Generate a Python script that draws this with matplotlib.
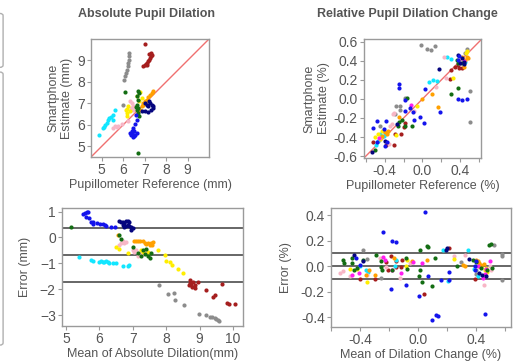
import numpy as np
import matplotlib
matplotlib.use('Agg')
import matplotlib.pyplot as plt
from matplotlib.patches import FancyBboxPatch

plt.rcParams['font.family'] = ['Liberation Sans', 'DejaVu Sans']

# ---- data: (reference, estimate) pairs, absolute dilation (mm) ----
tl_gray = [(6.05,8.11),(6.08,8.26),(6.13,8.42),(6.16,8.57),(6.21,8.73),(6.24,8.88),(6.27,9.04),(6.29,9.19),(6.29,9.35),(6.01,6.94)]
tl_brown = [(7.02,9.77),(6.94,8.73),(7.02,8.77),(7.09,8.80),(7.12,8.88),(7.17,8.96),(7.22,9.04),(7.25,9.11),(7.28,9.19),(7.31,9.35),(7.22,9.32),(7.06,8.84),(7.33,9.27)]
tl_cyan = [(4.89,5.54),(5.04,5.85),(5.11,5.88),(5.15,5.98),(5.23,6.09),(5.31,6.24),(5.42,6.35),(5.51,6.44),(5.62,6.71),(5.54,6.24),(5.35,6.30)]
tl_pink = [(6.32,7.10),(6.39,7.02),(6.44,6.86),(6.47,6.71),(6.35,6.79),(5.77,5.93),(5.70,5.89),(5.54,5.85),(5.93,6.04),(6.24,6.16),(5.62,5.95)]
tl_yellow = [(6.13,6.71),(6.19,6.55),(6.16,6.40),(6.24,6.86),(6.32,6.63),(6.63,7.33),(6.78,7.53),(6.86,7.25),(6.75,7.10),(6.20,6.75)]
tl_orange = [(6.78,6.71),(6.86,6.86),(6.94,7.02),(7.02,7.10),(7.09,7.17),(7.17,7.28),(7.25,7.38),(7.33,7.48),(7.37,7.56),(7.12,7.10),(6.94,6.94)]
tl_green = [(6.08,7.52),(6.67,7.56),(6.74,7.48),(6.66,7.33),(6.70,7.17),(6.64,6.94),(6.70,6.79),(6.63,6.71),(6.67,6.55),(6.74,6.40),(6.70,4.69),(6.60,6.85)]
tl_navy = [(7.02,7.02),(7.09,6.94),(7.17,6.86),(7.25,7.02),(7.33,6.94),(7.37,6.79),(7.28,6.71),(7.17,6.60),(7.02,6.63),(6.86,6.63),(7.40,6.86),(7.20,7.10)]
tl_blue = [(6.63,6.24),(6.55,6.04),(6.47,5.85),(6.39,5.70),(6.47,5.54),(6.35,5.51),(6.44,5.42),(6.55,5.54),(6.63,5.62),(6.52,5.70),(6.32,5.62),(6.61,6.48),(6.40,5.60),(6.50,5.48)]

# ---- relative dilation change (reference, estimate) ----
tr_gray = [(-0.02,0.57),(0.046,0.525),(0.09,0.51),(0.13,0.56),(0.47,0.52),(0.50,0.08),(0.50,-0.24),(-0.28,-0.07),(-0.24,-0.07),(-0.24,-0.12),(-0.29,-0.16),(-0.18,0.01),(-0.45,-0.28),(0.45,0.48)]
tr_brown = [(0.30,0.30),(0.29,0.21),(0.34,0.34),(0.39,0.32),(0.42,0.33),(0.375,0.36),(-0.20,-0.29),(-0.23,-0.37),(-0.29,-0.37),(-0.30,-0.48),(-0.385,-0.48),(-0.52,-0.45),(-0.18,-0.25)]
tr_cyan = [(0.26,0.44),(0.30,0.42),(0.11,0.195),(0.07,0.18),(0.15,0.19),(-0.40,-0.355),(-0.41,-0.39),(-0.47,-0.44),(-0.45,-0.37),(-0.49,-0.48),(0.45,0.39)]
tr_pink = [(0.14,0.13),(-0.34,-0.28),(-0.32,-0.26),(-0.31,-0.16),(-0.30,-0.15),(-0.35,-0.47),(0.23,0.44),(0.39,0.38),(-0.095,-0.13),(0.25,0.22)]
tr_yellow = [(-0.475,-0.37),(-0.50,-0.40),(-0.45,-0.42),(-0.28,-0.38),(-0.06,-0.07),(0.32,0.22),(0.46,0.48),(0.47,0.50),(-0.43,-0.34)]
tr_orange = [(-0.38,-0.37),(-0.40,-0.35),(-0.43,-0.39),(-0.37,-0.34),(-0.01,0.0),(0.10,0.055),(0.16,-0.08),(0.47,0.445),(0.45,0.41),(0.48,0.43),(0.445,0.34),(-0.25,-0.19),(0.42,0.445)]
tr_magenta = [(-0.46,-0.41),(0.44,0.40),(-0.12,-0.06)]
tr_green = [(-0.16,0.01),(-0.11,-0.28),(-0.18,-0.285),(-0.22,-0.22),(-0.255,-0.285),(0.38,0.115),(0.30,0.05),(-0.50,-0.535),(0.38,0.38),(0.42,0.375),(0.365,0.41),(-0.25,-0.245)]
tr_navy = [(0.375,0.46),(0.42,0.43),(0.40,0.38),(0.44,0.39),(0.17,0.31),(-0.27,-0.26),(-0.40,-0.44),(-0.53,-0.56),(0.435,0.37)]
tr_blue = [(-0.25,0.16),(-0.25,0.11),(-0.19,-0.01),(-0.13,-0.09),(-0.10,-0.14),(-0.025,-0.19),(0.02,-0.25),(0.03,0.10),(0.19,-0.14),(0.38,0.0),(0.42,-0.01),(0.47,0.0),(-0.52,-0.31),(-0.48,-0.23),(-0.39,-0.23),(-0.41,-0.32),(-0.48,-0.45),(-0.38,-0.45),(-0.40,-0.49),(-0.19,-0.13),(-0.085,-0.22),(0.39,0.45),(0.375,0.41)]

# ---- Bland-Altman absolute (mean, error) ----
bl_gray = [(7.78,-1.84),(8.05,-2.20),(8.22,-2.15),(8.25,-2.40),(8.52,-2.60),(8.98,-2.96),(9.20,-2.99),(9.30,-3.06),(9.38,-3.07),(9.45,-3.12),(9.50,-3.16),(9.55,-3.20),(9.58,-3.24)]
bl_brown = [(8.70,-1.74),(8.75,-1.82),(8.80,-1.72),(8.68,-1.85),(8.78,-1.91),(8.85,-1.97),(8.72,-1.64),(8.95,-1.72),(9.20,-2.03),(9.40,-2.29),(9.45,-2.23),(9.68,-1.80),(9.82,-2.54),(9.88,-2.58),(10.05,-2.58),(8.85,-1.82)]
bl_cyan = [(5.40,-0.77),(5.75,-0.88),(5.80,-0.90),(6.00,-0.95),(6.05,-0.92),(6.10,-0.95),(6.15,-0.93),(6.20,-0.92),(6.25,-0.95),(6.30,-0.98),(6.40,-1.00),(6.50,-0.97),(6.70,-1.10),(6.85,-1.10),(6.90,-1.08)]
bl_pink = [(6.65,-0.20),(6.70,-0.15),(6.75,-0.20),(6.80,-0.18),(7.00,-0.50),(7.05,-0.55),(7.10,-0.50),(7.15,-0.70),(7.20,-0.60),(7.30,-0.65),(7.35,-0.55),(6.60,-0.30)]
bl_yellow = [(6.50,-0.35),(6.60,-0.45),(6.85,-0.60),(7.25,-0.50),(7.30,-0.55),(7.45,-0.55),(7.76,-0.48),(7.96,-0.67),(7.98,-0.90),(8.12,-0.95),(8.18,-1.05),(8.35,-1.20),(8.50,-1.39)]
bl_orange = [(6.55,0.08),(7.05,-0.12),(7.10,-0.15),(7.15,-0.13),(7.20,-0.15),(7.30,-0.13),(7.35,-0.20),(7.40,-0.25),(7.45,-0.20),(7.50,-0.30),(7.55,-0.22),(7.60,-0.18),(7.58,-0.28)]
bl_green = [(5.15,0.42),(6.60,0.10),(6.65,-0.05),(7.00,-0.35),(7.15,-0.60),(7.25,-0.70),(7.30,-0.50),(7.40,-0.45),(7.45,-0.70),(7.50,-0.80),(7.55,-0.60),(7.35,-0.65)]
bl_navy = [(6.60,0.62),(6.65,0.58),(6.70,0.60),(6.75,0.55),(6.80,0.65),(6.85,0.50),(6.90,0.60),(6.90,0.45),(6.95,0.40),(6.95,0.30),(6.80,0.45),(6.70,0.50),(6.85,0.62),(7.00,0.35),(6.75,0.42)]
bl_blue = [(5.52,0.90),(5.57,0.94),(5.62,0.98),(5.67,1.00),(5.60,0.81),(5.70,0.74),(5.74,0.61),(5.82,0.59),(5.92,0.55),(6.01,0.51),(6.11,0.51),(6.16,0.49),(6.21,0.46),(6.36,0.42),(6.46,0.42),(5.82,0.51)]
bl_limits = [0.38, -0.67, -1.72]

# ---- Bland-Altman relative (mean, error) ----
br_gray = [(-0.378,0.125),(-0.35,0.057),(-0.254,-0.09),(0.297,0.03),(0.526,0.166),(0.58,0.099),(0.58,-0.104),(0.578,0.083),(0.40,-0.057),(0.40,-0.026)]
br_brown = [(-0.40,-0.10),(-0.22,0.03),(-0.187,0.078),(-0.153,0.039),(-0.153,-0.005),(-0.108,0.052),(-0.12,-0.005),(0.043,-0.216),(0.21,0.143),(0.39,-0.10),(-0.30,-0.10),(-0.21,-0.026)]
br_cyan = [(-0.40,0.005),(-0.36,-0.026),(-0.344,-0.047),(-0.153,0.052),(0.173,0.125),(0.346,0.13),(0.207,-0.117),(-0.157,0.005),(0.41,-0.078),(0.387,-0.02)]
br_pink = [(-0.535,-0.052),(-0.517,-0.039),(-0.467,-0.078),(-0.355,-0.065),(-0.22,-0.005),(-0.18,-0.026),(-0.124,-0.09),(-0.265,0.065),(-0.058,0.026),(0.247,0.083),(0.32,0.09),(0.454,-0.15),(0.494,0.0),(0.50,-0.026)]
br_yellow = [(-0.467,-0.02),(-0.42,-0.02),(-0.35,-0.125),(-0.074,0.052),(-0.085,0.0),(0.247,0.057),(0.42,0.0),(0.47,-0.013),(0.476,-0.047),(0.46,-0.03)]
br_orange = [(-0.36,-0.065),(-0.337,-0.026),(-0.30,-0.065),(-0.164,0.065),(-0.04,0.039),(0.061,0.047),(0.308,0.013),(0.40,0.052),(0.41,0.039),(0.42,0.026),(0.43,0.013),(0.436,-0.005),(0.454,0.02),(0.32,0.005)]
br_magenta = [(-0.456,-0.065),(-0.41,-0.052),(-0.243,0.07),(-0.225,0.052),(-0.18,-0.026),(-0.036,0.031),(0.027,0.026),(0.46,-0.06),(0.47,-0.02),(0.494,0.039),(0.45,-0.094),(0.41,0.005),(-0.12,-0.052)]
br_green = [(-0.52,0.05),(-0.51,0.026),(-0.456,0.065),(-0.456,0.026),(-0.445,-0.026),(-0.42,-0.013),(-0.29,0.09),(-0.254,0.039),(-0.254,-0.005),(-0.247,-0.03),(-0.085,0.065),(-0.074,-0.02),(0.016,0.13),(0.016,-0.026),(0.005,-0.078),(0.025,-0.125),(0.06,0.16),(0.065,0.15),(0.094,-0.155),(0.117,0.065),(0.27,0.005),(0.375,0.052),(0.40,0.03),(0.43,-0.013),(0.49,0.164),(0.50,0.17),(0.51,-0.013),(0.476,-0.026),(-0.378,0.05),(-0.18,-0.03)]
br_navy = [(0.19,0.13),(0.20,0.143),(-0.445,0.086),(0.42,-0.05),(0.47,-0.078),(0.44,-0.065),(-0.38,0.04),(0.35,0.06)]
br_blue = [(0.045,0.42),(-0.24,0.27),(-0.18,0.20),(-0.15,0.19),(-0.19,-0.18),(-0.085,-0.15),(0.007,-0.23),(0.07,-0.08),(0.16,-0.11),(0.21,-0.11),(0.21,-0.047),(0.094,-0.42),(0.12,-0.38),(0.14,-0.39),(0.46,-0.37),(0.39,0.0),(0.39,-0.026),(0.40,0.04),(-0.40,0.013),(-0.43,0.065)]
br_limits = [0.103, 0.0, -0.10]

colors = {
    'gray': '#8c8c8c', 'brown': '#a51e1e', 'cyan': '#12e6ff', 'pink': '#f7b6c6',
    'yellow': '#ffee00', 'orange': '#ffa000', 'magenta': '#ff1ef0', 'green': '#136d13',
    'navy': '#05057e', 'blue': '#1414ec',
}

TXT = '#555555'
EDGE = '#9a9a9a'


def style(ax):
    for s in ax.spines.values():
        s.set_color(EDGE)
        s.set_linewidth(1.0)
    ax.tick_params(colors=EDGE, labelcolor=TXT, labelsize=10, length=3, width=0.8, pad=1.5)


def scatter_groups(ax, groups):
    for name, pts in groups:
        pts = np.asarray(pts)
        ax.scatter(pts[:, 0], pts[:, 1], s=9, color=colors[name], linewidths=0, zorder=3)


fig = plt.figure(figsize=(5.16, 3.64), dpi=100)

# left-edge interface frame
for y0, h in [(0.815, 0.148), (0.052, 0.75)]:
    fig.patches.append(FancyBboxPatch((-0.02, y0), 0.026, h, boxstyle='round,pad=0,rounding_size=0.006',
                                      transform=fig.transFigure, fc='white', ec='#b0b0b0', lw=1.0))

# top-left: absolute
ax1 = fig.add_axes([0.1764, 0.5687, 0.2287, 0.3242])
scatter_groups(ax1, [('gray', tl_gray), ('brown', tl_brown), ('cyan', tl_cyan), ('pink', tl_pink),
                     ('yellow', tl_yellow), ('orange', tl_orange), ('green', tl_green),
                     ('navy', tl_navy), ('blue', tl_blue)])
ax1.plot([4.5, 10], [4.5, 10], color='#f07070', lw=1.0, zorder=2)
ax1.set_xlim(4.5, 10)
ax1.set_ylim(4.5, 10)
ax1.set_xticks([5, 6, 7, 8, 9])
ax1.set_yticks([5, 6, 7, 8, 9])
ax1.set_xlabel('Pupillometer Reference (mm)', color=TXT, fontsize=9, labelpad=1)
ax1.set_ylabel('Smartphone\nEstimate (mm)', color=TXT, fontsize=9, labelpad=3)
style(ax1)

# top-right: relative
ax2 = fig.add_axes([0.7054, 0.566, 0.2267, 0.327])
scatter_groups(ax2, [('gray', tr_gray), ('brown', tr_brown), ('cyan', tr_cyan), ('pink', tr_pink),
                     ('yellow', tr_yellow), ('orange', tr_orange), ('magenta', tr_magenta),
                     ('green', tr_green), ('navy', tr_navy), ('blue', tr_blue)])
ax2.plot([-0.62, 0.63], [-0.62, 0.63], color='#f07070', lw=1.0, zorder=2)
ax2.set_xlim(-0.62, 0.62)
ax2.set_ylim(-0.62, 0.63)
ax2.set_xticks([-0.6, -0.4, -0.2, 0.0, 0.2, 0.4, 0.6])
ax2.set_xticklabels(['', '-0.4', '', '0.0', '', '0.4', ''])
ax2.set_yticks([-0.6, -0.4, -0.2, 0.0, 0.2, 0.4, 0.6])
ax2.set_yticklabels(['-0.6', '-0.4', '-0.2', '0.0', '0.2', '0.4', '0.6'])
ax2.set_xlabel('Pupillometer Reference (%)', color=TXT, fontsize=9, labelpad=1)
ax2.set_ylabel('Smartphone\nEstimate (%)', color=TXT, fontsize=9, labelpad=3)
style(ax2)

# bottom-left: Bland-Altman absolute
ax3 = fig.add_axes([0.1202, 0.1044, 0.3508, 0.3242])
for v in bl_limits:
    ax3.axhline(v, color='#5a5a5a', lw=1.3, zorder=2)
scatter_groups(ax3, [('gray', bl_gray), ('brown', bl_brown), ('cyan', bl_cyan), ('pink', bl_pink),
                     ('yellow', bl_yellow), ('orange', bl_orange), ('green', bl_green),
                     ('navy', bl_navy), ('blue', bl_blue)])
ax3.set_xlim(4.88, 10.3)
ax3.set_ylim(-3.42, 1.14)
ax3.set_xticks([5, 6, 7, 8, 9, 10])
ax3.set_yticks([1, 0, -1, -2, -3])
ax3.set_xlabel('Mean of Absolute Dilation(mm)', color=TXT, fontsize=9, labelpad=1)
ax3.set_ylabel('Error (mm)', color=TXT, fontsize=9, labelpad=6)
style(ax3)

# bottom-right: Bland-Altman relative
ax4 = fig.add_axes([0.6415, 0.1016, 0.3488, 0.327])
for v in br_limits:
    ax4.axhline(v, color='#5a5a5a', lw=1.3, zorder=2)
scatter_groups(ax4, [('gray', br_gray), ('brown', br_brown), ('cyan', br_cyan), ('pink', br_pink),
                     ('yellow', br_yellow), ('orange', br_orange), ('magenta', br_magenta),
                     ('green', br_green), ('navy', br_navy), ('blue', br_blue)])
ax4.set_xlim(-0.58, 0.64)
ax4.set_ylim(-0.475, 0.455)
ax4.set_xticks([-0.6, -0.4, -0.2, 0.0, 0.2, 0.4, 0.6])
ax4.set_xticklabels(['', '-0.4', '', '0.0', '', '0.4', ''])
ax4.set_yticks([-0.4, -0.2, 0.0, 0.2, 0.4])
ax4.set_yticklabels(['-0.4', '-0.2', '0.0', '0.2', '0.4'])
ax4.set_xlabel('Mean of Dilation Change (%)', color=TXT, fontsize=9, labelpad=1)
ax4.set_ylabel('Error (%)', color=TXT, fontsize=9, labelpad=6)
style(ax4)

fig.text(147 / 516, 1 - 14 / 364, 'Absolute Pupil Dilation', ha='center', va='center',
         fontsize=9, fontweight='bold', color=TXT)
fig.text(407 / 516, 1 - 14 / 364, 'Relative Pupil Dilation Change', ha='center', va='center',
         fontsize=9, fontweight='bold', color=TXT)

fig.savefig('out.png', dpi=100)
